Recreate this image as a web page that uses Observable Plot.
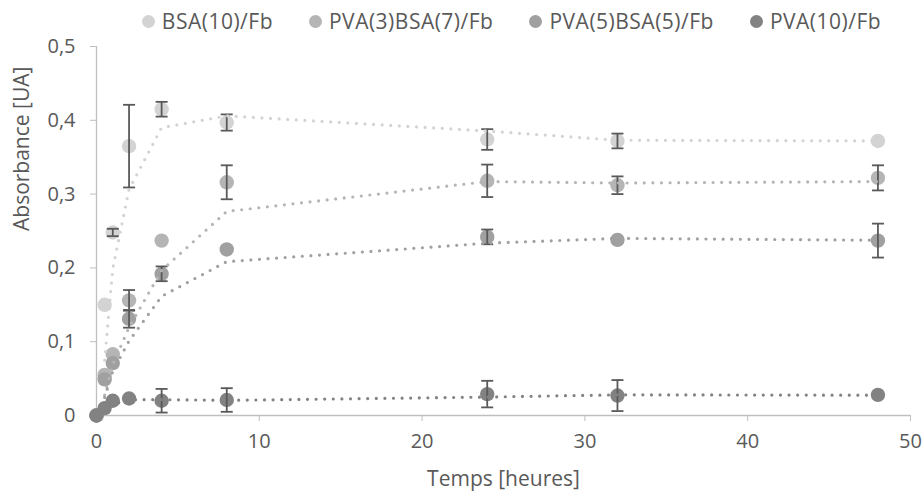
<!DOCTYPE html>
<html>
<head>
<meta charset="utf-8">
<script src="https://cdn.jsdelivr.net/npm/d3@7"></script>
<script src="https://cdn.jsdelivr.net/npm/@observablehq/plot@0.6"></script>
<style>
  html, body { margin: 0; padding: 0; background: #fff; }
  body { width: 924px; height: 495px; overflow: hidden; font-family: "Open Sans", sans-serif; position: relative; }
  #legend { position: absolute; top: 0; left: 0; width: 924px; height: 46px; box-sizing: border-box;
            padding-bottom: 4px; padding-left: 99px;
            display: flex; justify-content: center; align-items: center; gap: 36px;
            font-size: 21px; letter-spacing: 0.5px; color: #595959; z-index: 2; }
  #legend .item { display: flex; align-items: center; gap: 7px; line-height: 1; }
  #legend .sw { width: 13px; height: 13px; border-radius: 50%; display: inline-block; }
</style>
</head>
<body>
<div id="legend"></div>
<div id="chart"></div>
<script>
// ---- data ----
const seriesNames = ["BSA(10)/Fb", "PVA(3)BSA(7)/Fb", "PVA(5)BSA(5)/Fb", "PVA(10)/Fb"];
const seriesColors = ["#d3d3d3", "#b5b5b5", "#a0a0a0", "#828282"];
const times = [0, 0.5, 1, 2, 4, 8, 24, 32, 48];
const bsa10    = [0, 0.150, 0.248, 0.365, 0.415, 0.397, 0.374, 0.372, 0.372];
const bsa10Err = [0, 0,     0.005, 0.056, 0.010, 0.011, 0.014, 0.010, 0];
const pva3     = [0, 0.055, 0.083, 0.156, 0.237, 0.316, 0.318, 0.312, 0.322];
const pva3Err  = [0, 0,     0,     0.014, 0,     0.023, 0.022, 0.012, 0.017];
const pva5     = [0, 0.049, 0.071, 0.131, 0.192, 0.225, 0.242, 0.238, 0.237];
const pva5Err  = [0, 0,     0,     0.012, 0.010, 0,     0.010, 0,     0.023];
const pva10    = [0, 0.010, 0.020, 0.023, 0.020, 0.021, 0.029, 0.027, 0.028];
const pva10Err = [0, 0,     0,     0,     0.016, 0.016, 0.018, 0.021, 0];
const xTicks = [0, 10, 20, 30, 40, 50];
const yTicks = [0, 0.1, 0.2, 0.3, 0.4, 0.5];
const xTitle = "Temps [heures]";
const yTitle = "Absorbance [UA]";

// ---- table built from the arrays ----
const valueSets = [bsa10, pva3, pva5, pva10];
const errSets = [bsa10Err, pva3Err, pva5Err, pva10Err];
const rows = [];
valueSets.forEach((vals, si) => {
  vals.forEach((v, i) => rows.push({s: seriesNames[si], t: times[i], v, e: errSets[si][i]}));
});
const errRows = rows.filter(d => d.e > 0);

const fmt = d => d === 0 ? "0" : String(+d.toFixed(2)).replace(".", ",");

// legend
const lg = document.getElementById("legend");
seriesNames.forEach((n, i) => {
  const it = document.createElement("span"); it.className = "item";
  const sw = document.createElement("span"); sw.className = "sw"; sw.style.background = seriesColors[i];
  const tx = document.createElement("span"); tx.textContent = n;
  it.appendChild(sw); it.appendChild(tx); lg.appendChild(it);
});

const capSymbol = {
  draw(ctx, size) {
    const w = Math.sqrt(size / Math.PI);
    ctx.moveTo(-w, 0); ctx.lineTo(w, 0);
  }
};

const color = {domain: seriesNames, range: seriesColors};

const chart = Plot.plot({
  width: 924,
  height: 495,
  marginLeft: 96,
  marginRight: 14,
  marginTop: 46,
  marginBottom: 80,
  style: {fontFamily: "Open Sans, sans-serif", fontSize: "20px", color: "#595959", background: "#fff"},
  x: {domain: [0, 50]},
  y: {domain: [0, 0.5]},
  color,
  marks: [
    Plot.ruleY([0], {stroke: "#bfbfbf", strokeWidth: 1.3}),
    Plot.ruleX([0], {stroke: "#bfbfbf", strokeWidth: 1.3}),
    Plot.axisY({ticks: yTicks, tickFormat: fmt, tickSize: 6, tickPadding: 15, stroke: "#bfbfbf",
                fill: "#595959", fontSize: 20, label: null}),
    Plot.axisX({ticks: xTicks, tickFormat: fmt, tickSize: 6, tickPadding: 12, stroke: "#bfbfbf",
                fill: "#595959", fontSize: 20, label: null}),
    Plot.dot(rows, {x: "t", y: "v", fill: "s", r: 7.2}),
    Plot.ruleX(errRows, {x: "t", y1: d => d.v - d.e, y2: d => d.v + d.e, stroke: "#595959", strokeWidth: 1.8}),
    Plot.dot(errRows, {x: "t", y: d => d.v - d.e, symbol: capSymbol, r: 6, stroke: "#595959", strokeWidth: 1.8}),
    Plot.dot(errRows, {x: "t", y: d => d.v + d.e, symbol: capSymbol, r: 6, stroke: "#595959", strokeWidth: 1.8}),
    Plot.lineY(rows, Plot.windowY({k: 2, anchor: "end", reduce: "mean", strict: true},
      {x: "t", y: "v", z: "s", stroke: "s", strokeWidth: 3.2, strokeDasharray: "0 8.6", strokeLinecap: "round"})),
    Plot.text([yTitle], {frameAnchor: "left", dx: -74, rotate: -90, fontSize: 21, fill: "#595959", text: d => d}),
    Plot.text([xTitle], {frameAnchor: "bottom", lineAnchor: "middle", dy: 64, fontSize: 21, fill: "#595959", text: d => d})
  ]
});
document.getElementById("chart").appendChild(chart);
</script>
</body>
</html>
